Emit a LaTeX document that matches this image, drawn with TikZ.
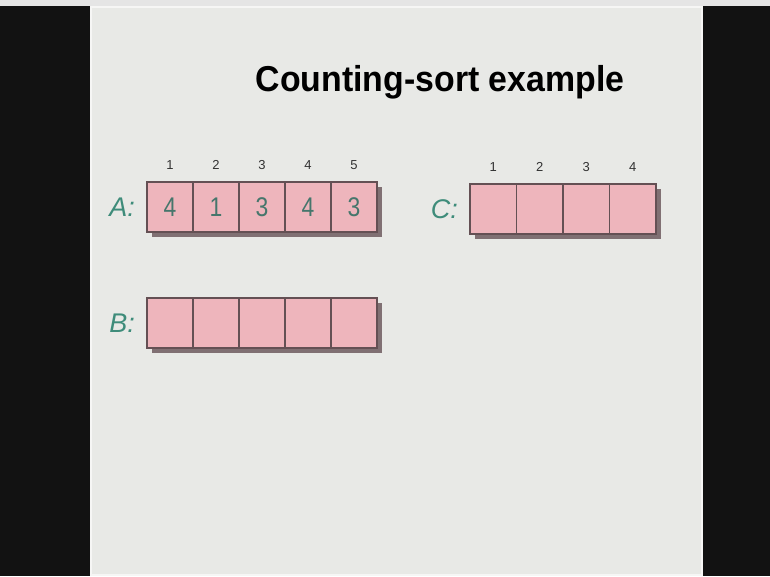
\documentclass[tikz,border=0pt]{standalone}
\usepackage{fontspec}
\setmainfont{Liberation Sans}
\usepackage{graphicx}
\usepackage{xcolor}
\definecolor{SlideGray}{RGB}{232,233,230}
\definecolor{CellPink}{RGB}{238,181,188}
\definecolor{CellLine}{RGB}{100,80,84}
\definecolor{ShadowMauve}{RGB}{128,112,115}
\definecolor{DigitTeal}{RGB}{70,118,108}
\definecolor{LabelTeal}{RGB}{62,140,122}
\definecolor{IndexGray}{RGB}{50,50,50}
\usetikzlibrary{positioning, fit, backgrounds}

\begin{document}
\begin{tikzpicture}[x=1pt, y=-1pt,
	celda/.style={rectangle, draw=CellLine, line width=1.1pt, fill=CellPink, outer sep=0pt,
		inner sep=0pt, minimum width=46pt, minimum height=50pt, text=DigitTeal,
		font=\fontsize{27}{27}\selectfont},
	indice/.style={inner sep=0pt, text=IndexGray, font=\fontsize{13}{13}\selectfont},
	nombre/.style={inner sep=0pt, text=LabelTeal, font=\fontsize{27}{27}\selectfont\itshape},
	sombra/.style={rectangle, fill=ShadowMauve, inner sep=0pt, xshift=5pt, yshift=-5pt}]

	\useasboundingbox (0,0) rectangle (770,576);

	% titulo
	\node[anchor=base, font=\fontsize{36}{36}\selectfont\bfseries] (titulo) at (440,91)
		{\scalebox{0.94}[1]{Counting-sort example}};

	% arreglo A
	\node[celda] (a1) at (170,207) {\scalebox{0.85}[1]{4}};
	\node[celda, right=0pt of a1] (a2) {\scalebox{0.85}[1]{1}};
	\node[celda, right=0pt of a2] (a3) {\scalebox{0.85}[1]{3}};
	\node[celda, right=0pt of a3] (a4) {\scalebox{0.85}[1]{4}};
	\node[celda, right=0pt of a4] (a5) {\scalebox{0.85}[1]{3}};
	\node[nombre, left=12pt of a1] (nomA) {A:};
	\node[indice, above=12pt of a1] (ia1) {1};
	\node[indice, above=12pt of a2] (ia2) {2};
	\node[indice, above=12pt of a3] (ia3) {3};
	\node[indice, above=12pt of a4] (ia4) {4};
	\node[indice, above=12pt of a5] (ia5) {5};

	% arreglo C
	\node[celda, minimum width=46.5pt] (c1) at (493.25,209) {};
	\node[celda, minimum width=46.5pt, right=0pt of c1] (c2) {};
	\node[celda, minimum width=46.5pt, right=0pt of c2] (c3) {};
	\node[celda, minimum width=46.5pt, right=0pt of c3] (c4) {};
	\node[nombre, left=12pt of c1] (nomC) {C:};
	\node[indice, above=12pt of c1] (ic1) {1};
	\node[indice, above=12pt of c2] (ic2) {2};
	\node[indice, above=12pt of c3] (ic3) {3};
	\node[indice, above=12pt of c4] (ic4) {4};

	% arreglo B
	\node[celda] (b1) at (170,323) {};
	\node[celda, right=0pt of b1] (b2) {};
	\node[celda, right=0pt of b2] (b3) {};
	\node[celda, right=0pt of b3] (b4) {};
	\node[celda, right=0pt of b4] (b5) {};
	\node[nombre, left=12pt of b1] (nomB) {B:};

	\begin{scope}[on background layer]
		\fill[black!93] (0,0) rectangle (770,576);
		\fill[gray!20] (0,0) rectangle (770,6);
		\fill[white!60!SlideGray] (90,6) rectangle (703,576);
		\fill[SlideGray] (92,8) rectangle (701,574);
		\node[sombra, fit=(a1)(a5)] (sa) {};
		\node[sombra, fit=(c1)(c4)] (sc) {};
		\node[sombra, fit=(b1)(b5)] (sb) {};
	\end{scope}
\end{tikzpicture}
\end{document}
